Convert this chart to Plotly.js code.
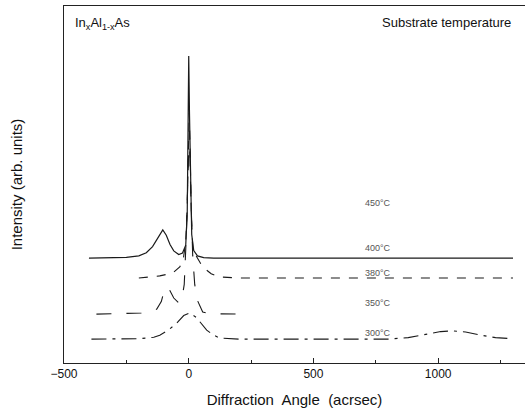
<!DOCTYPE html>
<html><head><meta charset="utf-8">
<script src="https://cdn.plot.ly/plotly-3.0.1.min.js"></script>
<style>html,body{margin:0;padding:0;background:#fff}#chart{width:525px;height:417px}</style>
</head><body><div id="chart"></div>
<script>
// 400°C curve
const xA = [-400,-250,-200,-170,-145,-125,-104,-90,-75,-60,-40,-25,-12,-6,-2,0,3,7,12,20,35,60,100,300,1300];
const yA = [29.4,29.6,30.0,30.9,32.6,35.0,37.3,35.8,33.2,31.4,30.4,30.8,33,42,65,86,70,48,36,31.5,30.0,29.5,29.4,29.4,29.4];
// 3rd curve (baseline ~23.8)
const xB = [-200,-116,-64,-36,-22,-12,-6,-2,2,6,10,16,30,56,90,124,200,1300];
const yB = [23.8,24.4,25.2,26.9,29,34,44,60,70,58,42,32.5,30,26.9,25,24.1,23.8,23.8];
// 350°C curve
const xC = [-370,-250,-190,-150,-128,-110,-98,-88,-78,-60,-40,-28,-18,-10,-4,2,8,16,24,35,56,80,204];
const yC = [13.7,13.8,14.0,14.5,15.1,17.2,20.3,21.3,20.6,18.2,16.8,17.6,22,35,55,65,48,30,22,17.5,14.3,13.8,13.7];
// bottom curve
const xD = [-390,-200,-140,-116,-80,-48,-20,4,30,50,72,100,124,200,800,880,950,1010,1060,1110,1170,1230,1300];
const yD = [6.7,6.8,7.2,7.8,9.3,11.2,13.3,14.0,12.8,11.0,9.2,7.8,7.0,6.7,6.7,7.1,8.0,8.8,9.0,8.7,7.8,7.1,6.8];

const tempLabels = ['450°C','400°C','380°C','350°C','300°C'];
const tempLabelY = [44.8,32.2,25.2,16.8,8.4];
const tempLabelX = 758;

const lineCol = '#1a1a1a';
const traces = [
  {x:xA,y:yA,mode:'lines',line:{color:lineCol,width:1.2,dash:'solid'}},
  {x:xB,y:yB,mode:'lines',line:{color:lineCol,width:1.1,dash:'dash'}},
  {x:xC,y:yC,mode:'lines',line:{color:lineCol,width:1.1,dash:'longdash'}},
  {x:xD,y:yD,mode:'lines',line:{color:lineCol,width:1.1,dash:'longdashdot'}}
];

const annotations = tempLabels.map((t,i)=>({x:tempLabelX,y:tempLabelY[i],text:t,showarrow:false,
  font:{family:'Liberation Sans, Arial, sans-serif',size:9,color:'#555'}}));
annotations.push({xref:'paper',yref:'paper',x:0.02,y:0.98,xanchor:'left',yanchor:'top',showarrow:false,
  text:'In<sub>x</sub>Al<sub>1-x</sub>As',font:{family:'Liberation Sans, Arial, sans-serif',size:13,color:'#111'}});
annotations.push({xref:'paper',yref:'paper',x:0.975,y:0.98,xanchor:'right',yanchor:'top',showarrow:false,
  text:'Substrate temperature',font:{family:'Liberation Sans, Arial, sans-serif',size:13,color:'#111'}});

const layout = {
  width:525,height:417,
  margin:{l:64,r:0,t:6,b:54},
  paper_bgcolor:'#fff',plot_bgcolor:'#fff',
  showlegend:false,
  font:{family:'Liberation Sans, Arial, sans-serif',color:'#111'},
  xaxis:{range:[-500,1348],tickvals:[-500,0,500,1000],ticks:'inside',ticklen:5,tickcolor:'#222',
    minor:{tickvals:[-250,250,750,1250],ticks:'inside',ticklen:3,tickcolor:'#222'},
    showline:true,linecolor:'#222',linewidth:1,mirror:true,showgrid:false,zeroline:false,
    tickfont:{size:12,color:'#111'},
    title:{text:'Diffraction  Angle  (acrsec)',font:{size:15,color:'#111'},standoff:14}},
  yaxis:{range:[0,100],showticklabels:false,ticks:'',showline:true,linecolor:'#222',linewidth:1,mirror:true,
    showgrid:false,zeroline:false,
    title:{text:'Intensity (arb. units)',font:{size:15,color:'#111'},standoff:36}},
  annotations:annotations
};
Plotly.newPlot('chart',traces,layout,{displayModeBar:false,staticPlot:true});
</script></body></html>
